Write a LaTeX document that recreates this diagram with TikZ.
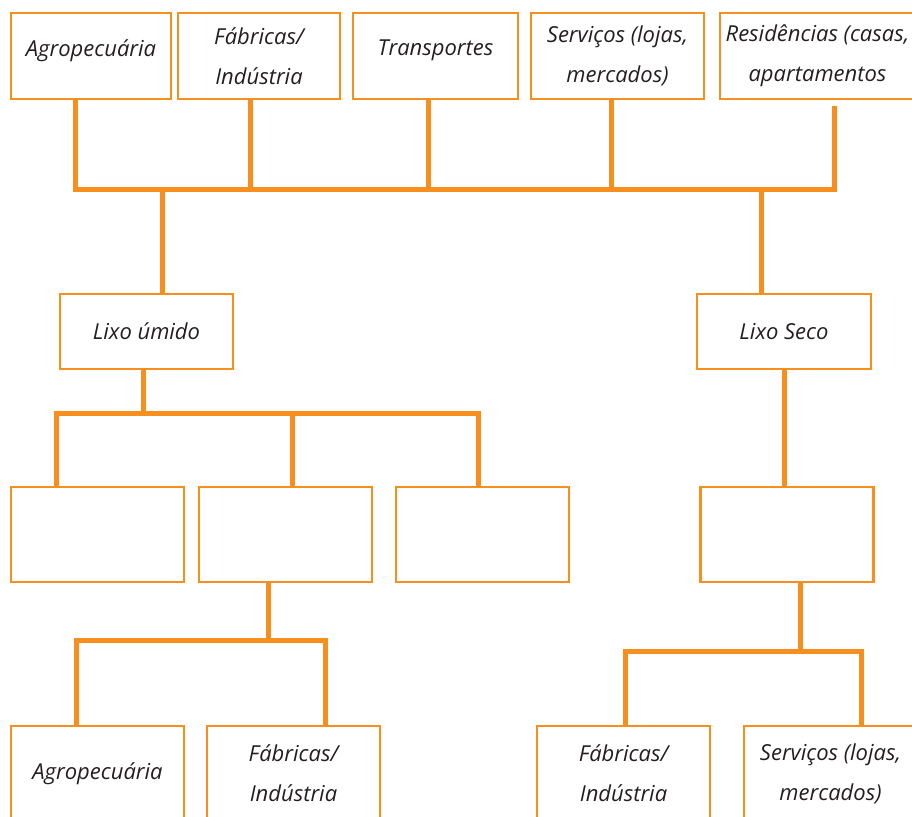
\documentclass[tikz,border=0pt]{standalone}
\usepackage{fontspec}
\setmainfont{Open Sans}
\definecolor{laranja}{RGB}{247,143,30}
\definecolor{tinta}{RGB}{35,31,32}
\newcommand\rotulo{\fontsize{22}{40}\selectfont\itshape}
\tikzset{
  caixa/.style={draw=laranja, line width=2.4pt, minimum width=173pt, minimum height=95pt,
    inner sep=0pt, align=center, text=tinta, font=\rotulo},
  topo/.style={minimum height=86pt},
  umalinha/.style={text depth=16pt},
  fio/.style={draw=laranja, line width=5pt}
}
\begin{document}
\begin{tikzpicture}[x=1pt,y=-1pt]
	\clip (0,0) rectangle (912,816);
	% fontes do lixo
	\node[caixa, topo, umalinha, minimum width=160pt] (agro) at (91,56) {Agropecuária};
	\node[caixa, topo, minimum width=162pt] (fab) at (259,56) {Fábricas/\\Indústria};
	\node[caixa, topo, umalinha, minimum width=165pt] (transp) at (435.5,56) {Transportes};
	\node[caixa, topo] (serv) at (617.5,56) {Serviços (lojas,\\mercados)};
	\node[caixa, topo, minimum width=195pt] (resid) at (817.5,56) {Residências (casas,\\apartamentos};
	
	\node[caixa, minimum height=75pt] (umido) at (146.5,331.5) {Lixo úmido};
	\node[caixa, minimum height=75pt, minimum width=174pt] (seco) at (784,331.5) {Lixo Seco};
	
	\node[caixa] (ua) at (97.5,534.5) {};
	\node[caixa] (ub) at (285.5,534.5) {};
	\node[caixa] (uc) at (482.5,534.5) {};
	\node[caixa] (sa) at (787,534.5) {};
	
	\node[caixa] (ubagro) at (97.5,773.5) {Agropecuária};
	\node[caixa] (ubfab) at (293.5,773.5) {Fábricas/\\Indústria};
	\node[caixa] (safab) at (623.5,773.5) {Fábricas/\\Indústria};
	\node[caixa] (saserv) at (830.5,773.5) {Serviços (lojas,\\mercados)};
	
	% barra de cima
	\coordinate (t1) at (75,189); \coordinate (t2) at (250,189);
	\coordinate (t3) at (428,189); \coordinate (t4) at (611,189);
	\coordinate (t5) at (834,189); \coordinate (r5) at (834,106);
	\draw[fio] (t1 |- agro.south) -- (t1) -- (t5) -- (r5);
	\foreach \c/\n in {t2/fab, t3/transp, t4/serv}
		\draw[fio] (\c |- \n.south) -- (\c);
	\coordinate (u0) at (162,189); \coordinate (s0) at (761,189);
	\draw[fio] (u0) -- (u0 |- umido.north);
	\draw[fio] (s0) -- (s0 |- seco.north);
	
	% lixo umido
	\coordinate (m0) at (143,413); \coordinate (m1) at (56,413);
	\coordinate (m2) at (292,413); \coordinate (m3) at (478,413);
	\draw[fio] (m0 |- umido.south) -- (m0);
	\draw[fio] (m1 |- ua.north) -- (m1) -- (m3) -- (m3 |- uc.north);
	\draw[fio] (m2) -- (m2 |- ub.north);
	
	\coordinate (b0) at (268,640); \coordinate (b1) at (76,640); \coordinate (b2) at (325,640);
	\draw[fio] (b0 |- ub.south) -- (b0);
	\draw[fio] (b1 |- ubagro.north) -- (b1) -- (b2) -- (b2 |- ubfab.north);
	
	% lixo seco
	\coordinate (k0) at (784,420);
	\draw[fio] (k0 |- seco.south) -- (k0 |- sa.north);
	\coordinate (d0) at (800,651); \coordinate (d1) at (625,651); \coordinate (d2) at (861,651);
	\draw[fio] (d0 |- sa.south) -- (d0);
	\draw[fio] (d1 |- safab.north) -- (d1) -- (d2) -- (d2 |- saserv.north);
\end{tikzpicture}
\end{document}
